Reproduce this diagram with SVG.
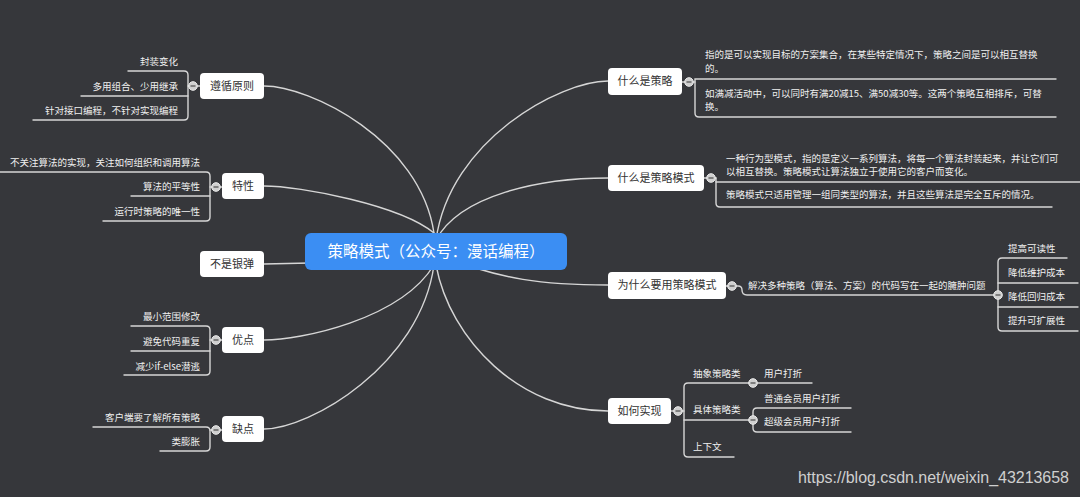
<svg xmlns="http://www.w3.org/2000/svg" width="1080" height="497" viewBox="0 0 1080 497">
<style>
.bg{fill:#36373b}
.ln{fill:none;stroke:#d6d6d6;stroke-width:1.4;stroke-linecap:round}
.box{fill:#ffffff}
.nt{font-family:"Noto Sans CJK SC","Noto Sans",sans-serif;font-size:11px;fill:#333333;text-anchor:middle}
.ct{font-family:"Noto Sans CJK SC","Noto Sans",sans-serif;font-size:9.5px;fill:#f0f0f0}
.ce{text-anchor:end}
.dot{fill:#cfcfcf;stroke:#ececec;stroke-width:1}
.mn{stroke:#4a4a4a;stroke-width:1.2}
</style>
<rect class="bg" x="0" y="0" width="1080" height="497"/>
<g id="connectors">
<path class="ln" d="M264,86 C310,86 420,140 434,233"/>
<path class="ln" d="M264,186 C300,186 400,205 434,233"/>
<path class="ln" d="M264,264 L310,263"/>
<path class="ln" d="M264,340 C300,340 400,320 434,265"/>
<path class="ln" d="M264,429 C310,429 420,365 434,265"/>
<path class="ln" d="M608,81 C560,81 450,140 436,240"/>
<path class="ln" d="M608,178 C540,178 460,195 436,240"/>
<path class="ln" d="M608,285 C545,285 500,280 440,255"/>
<path class="ln" d="M608,411 C520,411 450,340 436,265"/>
</g>
<g id="central">
<rect x="305" y="233" width="262" height="37" rx="6" fill="#3b8ef3"/>
<text x="436" y="257" font-family="Noto Sans CJK SC, Noto Sans, sans-serif" font-size="15.5" fill="#ffffff" text-anchor="middle">策略模式（公众号：漫话编程）</text>
</g>
<g id="zunxun">
<path class="ln" d="M200,86 H188"/>
<path class="ln" d="M128,71 H184 Q188,71 188,75 V116 Q188,120 184,120 H33"/>
<path class="ln" d="M81,96 H188"/>
<circle class="dot" cx="193" cy="86" r="4.3"/><path class="mn" d="M190.5,86 H195.5"/>
<rect class="box" x="200" y="73" width="64" height="26" rx="4"/>
<text class="nt" x="232" y="90">遵循原则</text>
<text class="ct ce" x="178" y="65">封装变化</text>
<text class="ct ce" x="178" y="90">多用组合、少用继承</text>
<text class="ct ce" x="178" y="114">针对接口编程，不针对实现编程</text>
</g>
<g id="texing">
<path class="ln" d="M222,187 H210"/>
<path class="ln" d="M0,172 H206 Q210,172 210,176 V217 Q210,221 206,221 H103"/>
<path class="ln" d="M131,196 H210"/>
<circle class="dot" cx="216" cy="187" r="4.3"/><path class="mn" d="M213.5,187 H218.5"/>
<rect class="box" x="222" y="173" width="42" height="26" rx="4"/>
<text class="nt" x="243" y="190">特性</text>
<text class="ct ce" x="200" y="166">不关注算法的实现，关注如何组织和调用算法</text>
<text class="ct ce" x="200" y="190">算法的平等性</text>
<text class="ct ce" x="200" y="215">运行时策略的唯一性</text>
</g>
<g id="bushiyindan">
<rect class="box" x="200" y="251" width="64" height="26" rx="4"/>
<text class="nt" x="232" y="268">不是银弹</text>
</g>
<g id="youdian">
<path class="ln" d="M222,340 H210"/>
<path class="ln" d="M131,326 H206 Q210,326 210,330 V371 Q210,375 206,375 H124"/>
<path class="ln" d="M131,351 H210"/>
<circle class="dot" cx="216" cy="340" r="4.3"/><path class="mn" d="M213.5,340 H218.5"/>
<rect class="box" x="222" y="327" width="42" height="26" rx="4"/>
<text class="nt" x="243" y="344">优点</text>
<text class="ct ce" x="200" y="320">最小范围修改</text>
<text class="ct ce" x="200" y="345">避免代码重复</text>
<text class="ct ce" x="200" y="370">减少if-else潜逃</text>
</g>
<g id="quedian">
<path class="ln" d="M222,430 H210"/>
<path class="ln" d="M93,427 H206 Q210,427 210,431 V447 Q210,451 206,451 H160"/>
<circle class="dot" cx="216" cy="430" r="4.3"/><path class="mn" d="M213.5,430 H218.5"/>
<rect class="box" x="222" y="416" width="42" height="26" rx="4"/>
<text class="nt" x="243" y="433">缺点</text>
<text class="ct ce" x="200" y="421">客户端要了解所有策略</text>
<text class="ct ce" x="200" y="445">类膨胀</text>
</g>
<g id="shenmeshicelue">
<path class="ln" d="M682,82 H695"/>
<path class="ln" d="M1056,79 H695 V113 Q695,117 699,117 H1056"/>
<circle class="dot" cx="689" cy="82" r="4.3"/><path class="mn" d="M686.5,82 H691.5"/>
<rect class="box" x="608" y="68" width="74" height="27" rx="4"/>
<text class="nt" x="645" y="85">什么是策略</text>
<text class="ct" x="705" y="58">指的是可以实现目标的方案集合，在某些特定情况下，策略之间是可以相互替换</text>
<text class="ct" x="705" y="72">的。</text>
<text class="ct" x="705" y="97">如满减活动中，可以同时有满20减15、满50减30等。这两个策略互相排斥，可替</text>
<text class="ct" x="705" y="110">换。</text>
</g>
<g id="shenmeshiceluemoshi">
<path class="ln" d="M704,178 H716"/>
<path class="ln" d="M1080,182 H716 V203 Q716,207 720,207 H1052"/>
<path class="ln" d="M716,178 V182"/>
<circle class="dot" cx="711" cy="178" r="4.3"/><path class="mn" d="M708.5,178 H713.5"/>
<rect class="box" x="608" y="165" width="96" height="26" rx="4"/>
<text class="nt" x="656" y="182">什么是策略模式</text>
<text class="ct" x="726" y="162">一种行为型模式，指的是定义一系列算法，将每一个算法封装起来，并让它们可</text>
<text class="ct" x="726" y="175">以相互替换。策略模式让算法独立于使用它的客户而变化。</text>
<text class="ct" x="726" y="198">策略模式只适用管理一组同类型的算法，并且这些算法是完全互斥的情况。</text>
</g>
<g id="weishenme">
<path class="ln" d="M726,286 H738 Q742,286 742,290 Q742,295 747,295 H998"/>
<path class="ln" d="M1067,258 H1002 Q998,258 998,262 V327 Q998,331 1002,331 H1078"/>
<path class="ln" d="M998,283 H1078"/>
<path class="ln" d="M998,307 H1078"/>
<circle class="dot" cx="732" cy="286" r="4.3"/><path class="mn" d="M729.5,286 H734.5"/>
<circle class="dot" cx="998" cy="295" r="4.3"/><path class="mn" d="M995.5,295 H1000.5"/>
<rect class="box" x="608" y="272" width="118" height="27" rx="4"/>
<text class="nt" x="667" y="289">为什么要用策略模式</text>
<text class="ct" x="748" y="289">解决多种策略（算法、方案）的代码写在一起的臃肿问题</text>
<text class="ct" x="1008" y="252">提高可读性</text>
<text class="ct" x="1008" y="276">降低维护成本</text>
<text class="ct" x="1008" y="300">降低回归成本</text>
<text class="ct" x="1008" y="324">提升可扩展性</text>
</g>
<g id="ruheshixian">
<path class="ln" d="M671,411 H684"/>
<path class="ln" d="M753,383 H688 Q684,383 684,387 V453 Q684,457 688,457 H734"/>
<path class="ln" d="M684,420 H753"/>
<path class="ln" d="M753,383 H812"/>
<path class="ln" d="M851,408 H757 Q753,408 753,412 V428 Q753,432 757,432 H851"/>
<circle class="dot" cx="678" cy="411" r="4.3"/><path class="mn" d="M675.5,411 H680.5"/>
<circle class="dot" cx="753" cy="383" r="4.3"/><path class="mn" d="M750.5,383 H755.5"/>
<circle class="dot" cx="753" cy="420" r="4.3"/><path class="mn" d="M750.5,420 H755.5"/>
<rect class="box" x="608" y="398" width="63" height="26" rx="4"/>
<text class="nt" x="639.5" y="415">如何实现</text>
<text class="ct" x="693" y="377">抽象策略类</text>
<text class="ct" x="693" y="413">具体策略类</text>
<text class="ct" x="693" y="450">上下文</text>
<text class="ct" x="764" y="377">用户打折</text>
<text class="ct" x="764" y="402">普通会员用户打折</text>
<text class="ct" x="764" y="425">超级会员用户打折</text>
</g>
<text x="798" y="483" font-family="Liberation Sans, Arial, sans-serif" font-size="16" fill="#cfcfcf" textLength="271">https://blog.csdn.net/weixin_43213658</text>
</svg>
